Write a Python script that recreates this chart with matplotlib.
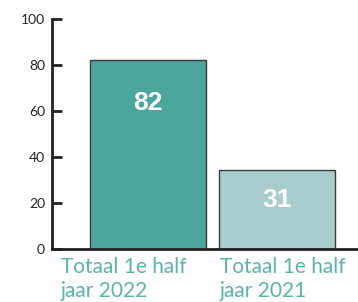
import matplotlib
matplotlib.use("Agg")
import matplotlib.pyplot as plt
from matplotlib.transforms import blended_transform_factory

# Data
categories = ["Totaal 1e half\njaar 2022", "Totaal 1e half\njaar 2021"]
values = [82, 34.5]
value_labels = ["82", "31"]
bar_colors = ["#4ba79e", "#a8cccb"]

W, H = 358, 302
fig = plt.figure(figsize=(W / 100, H / 100), dpi=100)
ax = fig.add_axes([52 / W, (H - 249.3) / H, 1 - 52 / W, (249.3 - 19) / H])

x = list(range(len(categories)))
bars = ax.bar(x, values, width=0.9, color=bar_colors, edgecolor="#3a3a3a", linewidth=1.0, zorder=2)

ax.set_xlim(-0.744, 1.628)
ax.set_ylim(0, 100)
ax.set_yticks([0, 20, 40, 60, 80, 100])
ax.tick_params(axis="y", direction="in", length=7, width=2, pad=5, labelsize=10,
               colors="#222222", labelfontfamily="Lato")
ax.set_xticks([])

for s in ["top", "right"]:
    ax.spines[s].set_visible(False)
for s in ["left", "bottom"]:
    ax.spines[s].set_linewidth(2)
    ax.spines[s].set_color("#222222")

# value labels inside bars
label_y = [63.6, 21.6]
for xi, lab, ly in zip(x, value_labels, label_y):
    ax.text(xi, ly, lab, ha="center", va="center", color="white",
            fontsize=19, fontweight="bold", family="Liberation Sans")

# category labels below axis
trans = blended_transform_factory(ax.transData, ax.transAxes)
label_x = [-0.677, 0.558]
for lx, cat in zip(label_x, categories):
    ax.text(lx, -0.035, cat, ha="left", va="top", color="#5bb3a9",
            fontsize=15, family="Lato", linespacing=1.25, transform=trans)

fig.savefig("out.png", dpi=100)
